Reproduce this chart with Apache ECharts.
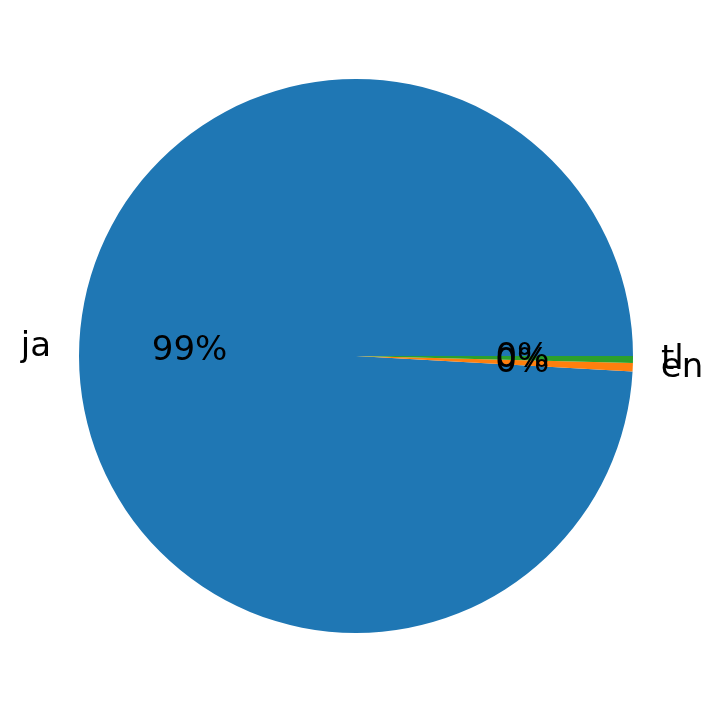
<!DOCTYPE html>
<html>
<head>
<meta charset="utf-8">
<script src="https://cdn.jsdelivr.net/npm/echarts@6/dist/echarts.min.js"></script>
<style>html,body{margin:0;padding:0;background:#fff}#c{width:714px;height:713px}</style>
</head>
<body>
<div id="c"></div>
<script>
const categories = ['ja', 'en', 'tl'];
const values = [99.11, 0.49, 0.40];
const colors = ['#1f77b4', '#ff7f0e', '#2ca02c'];

const total = values.reduce((a, b) => a + b, 0);
const data = categories.map((c, i) => ({ name: c, value: values[i], itemStyle: { color: colors[i] } }));
const R = 277;
const FONT = 'DejaVu Sans';
const chart = echarts.init(document.getElementById('c'), null, { renderer: 'canvas' });
chart.setOption({
  animation: false,
  backgroundColor: '#fff',
  series: [
    {
      type: 'pie',
      center: [356, 356],
      radius: [0, R],
      startAngle: 0,
      clockwise: false,
      avoidLabelOverlap: false,
      silent: true,
      emphasis: { disabled: true },
      itemStyle: { borderWidth: 0 },
      labelLayout: { hideOverlap: false },
      label: {
        show: true,
        position: 'outside',
        formatter: '{b}',
        fontFamily: FONT,
        fontSize: 34,
        color: '#000',
        distanceToLabelLine: 0,
        padding: [2, 0, 0, 0]
      },
      labelLine: { show: false, length: 28, length2: 0 },
      data: data
    },
    {
      type: 'pie',
      center: [356, 356],
      radius: [0.18 * R, R],
      startAngle: 0,
      clockwise: false,
      avoidLabelOverlap: false,
      silent: true,
      emphasis: { disabled: true },
      itemStyle: { color: 'rgba(0,0,0,0)', borderWidth: 0 },
      labelLayout: { hideOverlap: false },
      label: {
        show: true,
        position: 'inside',
        formatter: p => Math.round(p.value / total * 100) + '%',
        fontFamily: FONT,
        fontSize: 34,
        color: '#000',
        padding: [2, 0, 0, 0]
      },
      labelLine: { show: false },
      data: categories.map((c, i) => ({ name: c, value: values[i] }))
    }
  ]
});
</script>
</body>
</html>
